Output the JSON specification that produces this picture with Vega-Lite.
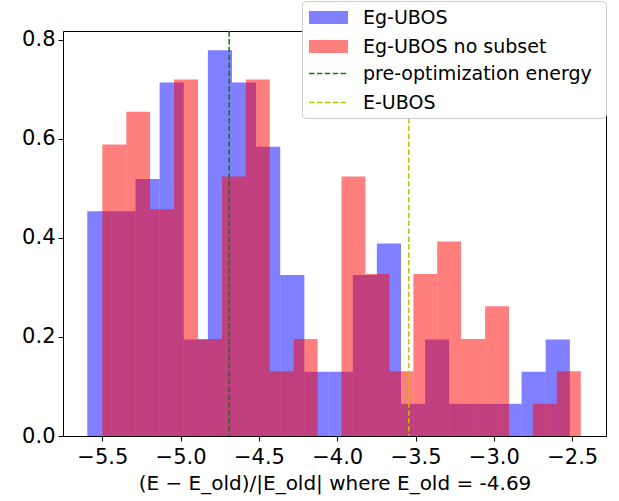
{
  "$schema": "https://vega.github.io/schema/vega-lite/v6.json",
  "width": 543,
  "height": 405,
  "autosize": {"type": "none"},
  "padding": {"left": 63, "top": 31, "right": 13, "bottom": 65},
  "config": {
    "font": "DejaVu Sans",
    "view": {"stroke": "black", "strokeWidth": 1},
    "axis": {"labelFont": "DejaVu Sans", "titleFont": "DejaVu Sans", "labelColor": "black", "titleColor": "black", "domainColor": "black", "tickColor": "black", "grid": false}
  },
  "layer": [
    {
      "data": {"values": [
        {"series": "Eg-UBOS", "x0": -5.596, "x1": -5.442, "d": 0.454},
        {"series": "Eg-UBOS", "x0": -5.442, "x1": -5.288, "d": 0.454},
        {"series": "Eg-UBOS", "x0": -5.288, "x1": -5.134, "d": 0.519},
        {"series": "Eg-UBOS", "x0": -5.134, "x1": -4.980, "d": 0.714},
        {"series": "Eg-UBOS", "x0": -4.980, "x1": -4.826, "d": 0.195},
        {"series": "Eg-UBOS", "x0": -4.826, "x1": -4.672, "d": 0.779},
        {"series": "Eg-UBOS", "x0": -4.672, "x1": -4.518, "d": 0.714},
        {"series": "Eg-UBOS", "x0": -4.518, "x1": -4.364, "d": 0.584},
        {"series": "Eg-UBOS", "x0": -4.364, "x1": -4.210, "d": 0.325},
        {"series": "Eg-UBOS", "x0": -4.210, "x1": -4.055, "d": 0.130},
        {"series": "Eg-UBOS", "x0": -4.055, "x1": -3.901, "d": 0.130},
        {"series": "Eg-UBOS", "x0": -3.901, "x1": -3.747, "d": 0.325},
        {"series": "Eg-UBOS", "x0": -3.747, "x1": -3.593, "d": 0.389},
        {"series": "Eg-UBOS", "x0": -3.593, "x1": -3.439, "d": 0.065},
        {"series": "Eg-UBOS", "x0": -3.439, "x1": -3.285, "d": 0.195},
        {"series": "Eg-UBOS", "x0": -3.285, "x1": -3.131, "d": 0.065},
        {"series": "Eg-UBOS", "x0": -3.131, "x1": -2.977, "d": 0.065},
        {"series": "Eg-UBOS", "x0": -2.977, "x1": -2.823, "d": 0.065},
        {"series": "Eg-UBOS", "x0": -2.823, "x1": -2.669, "d": 0.130},
        {"series": "Eg-UBOS", "x0": -2.669, "x1": -2.515, "d": 0.195},
        {"series": "Eg-UBOS no subset", "x0": -5.500, "x1": -5.347, "d": 0.589},
        {"series": "Eg-UBOS no subset", "x0": -5.347, "x1": -5.195, "d": 0.655},
        {"series": "Eg-UBOS no subset", "x0": -5.195, "x1": -5.042, "d": 0.458},
        {"series": "Eg-UBOS no subset", "x0": -5.042, "x1": -4.889, "d": 0.720},
        {"series": "Eg-UBOS no subset", "x0": -4.889, "x1": -4.736, "d": 0.196},
        {"series": "Eg-UBOS no subset", "x0": -4.736, "x1": -4.584, "d": 0.524},
        {"series": "Eg-UBOS no subset", "x0": -4.584, "x1": -4.431, "d": 0.720},
        {"series": "Eg-UBOS no subset", "x0": -4.431, "x1": -4.278, "d": 0.131},
        {"series": "Eg-UBOS no subset", "x0": -4.278, "x1": -4.125, "d": 0.196},
        {"series": "Eg-UBOS no subset", "x0": -4.125, "x1": -3.973, "d": 0.0},
        {"series": "Eg-UBOS no subset", "x0": -3.973, "x1": -3.820, "d": 0.524},
        {"series": "Eg-UBOS no subset", "x0": -3.820, "x1": -3.667, "d": 0.327},
        {"series": "Eg-UBOS no subset", "x0": -3.667, "x1": -3.514, "d": 0.131},
        {"series": "Eg-UBOS no subset", "x0": -3.514, "x1": -3.362, "d": 0.327},
        {"series": "Eg-UBOS no subset", "x0": -3.362, "x1": -3.209, "d": 0.393},
        {"series": "Eg-UBOS no subset", "x0": -3.209, "x1": -3.056, "d": 0.196},
        {"series": "Eg-UBOS no subset", "x0": -3.056, "x1": -2.903, "d": 0.262},
        {"series": "Eg-UBOS no subset", "x0": -2.903, "x1": -2.751, "d": 0.0},
        {"series": "Eg-UBOS no subset", "x0": -2.751, "x1": -2.598, "d": 0.065},
        {"series": "Eg-UBOS no subset", "x0": -2.598, "x1": -2.445, "d": 0.131}
      ]},
      "mark": {"type": "bar", "opacity": 0.5, "strokeWidth": 0},
      "encoding": {
        "x": {"field": "x0", "type": "quantitative",
          "scale": {"domain": [-5.751, -2.284], "nice": false, "zero": false},
          "axis": {"values": [-5.5, -5.0, -4.5, -4.0, -3.5, -3.0, -2.5], "format": ".1f", "labelFontSize": 21, "titleFontSize": 20, "titleFontWeight": "normal", "tickSize": 5, "labelPadding": 5, "titlePadding": 6,
            "title": "(E − E_old)/|E_old| where E_old =  -4.69"}},
        "x2": {"field": "x1"},
        "y": {"field": "d", "type": "quantitative",
          "scale": {"domain": [0, 0.818], "nice": false},
          "axis": {"values": [0, 0.2, 0.4, 0.6, 0.8], "format": ".1f", "labelFontSize": 21, "tickSize": 5, "labelPadding": 3, "title": null}},
        "y2": {"datum": 0},
        "fill": {"field": "series", "type": "nominal",
          "scale": {"domain": ["Eg-UBOS", "Eg-UBOS no subset"], "range": ["#0000ff", "#ff0000"]},
          "legend": {
            "title": ["\u00a0", "MMMMMMMMMMMMMMMMMii"],
            "titleColor": "white",
            "titleOrient": "bottom", "titleFontSize": 19, "titleFont": "DejaVu Sans", "titleFontWeight": "normal", "titleLineHeight": 26, "titlePadding": 9, "titleLimit": 400,
            "orient": "none", "legendX": 239, "legendY": -30,
            "labelFontSize": 19, "labelFont": "DejaVu Sans", "labelColor": "black", "labelLimit": 400,
            "symbolSize": 4, "symbolOffset": 10, "labelOffset": 25, "rowPadding": 9, "padding": 7,
            "symbolStrokeWidth": 0,
            "fillColor": "white", "strokeColor": "#cccccc", "cornerRadius": 4,
            "symbolType": "M-19.5,-6.5H19.5V6.5H-19.5Z"
          }}
      }
    },
    {
      "data": {"values": [
        {"series": "pre-optimization energy", "x": -4.69},
        {"series": "E-UBOS", "x": -3.543}
      ]},
      "mark": {"type": "rule", "strokeWidth": 1.5, "strokeDash": [5.5, 2.4]},
      "encoding": {
        "x": {"field": "x", "type": "quantitative"},
        "stroke": {"field": "series", "type": "nominal",
          "scale": {"domain": ["pre-optimization energy", "E-UBOS"], "range": ["#008000", "#bfbf00"]},
          "legend": {
            "title": null, "orient": "none", "legendX": 239, "legendY": 26,
            "labelFontSize": 19, "labelFont": "DejaVu Sans", "labelColor": "black", "labelLimit": 400,
            "symbolSize": 4, "symbolOffset": 10, "labelOffset": 25, "rowPadding": 9, "padding": 7,
            "symbolStrokeWidth": 1.5, "symbolDash": [5.5, 2.4],
            "symbolType": "M-19.5,0H19.5"
          }}
      }
    }
  ]
}
